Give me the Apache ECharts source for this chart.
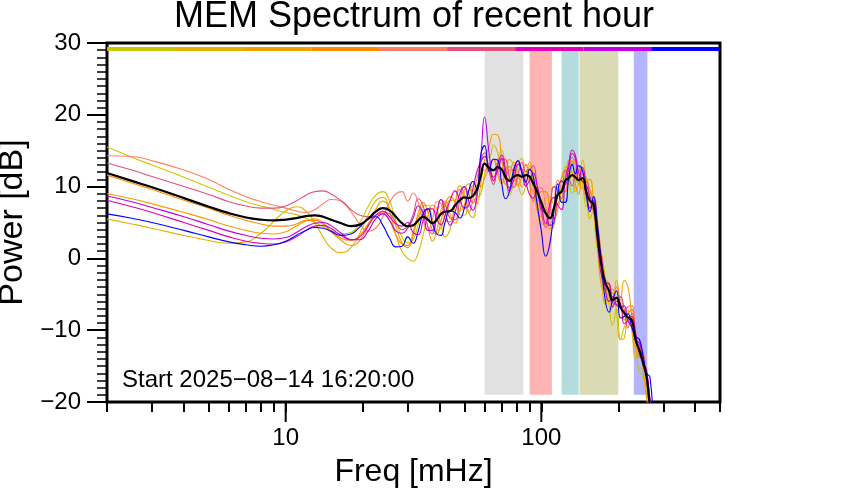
<!DOCTYPE html>
<html><head><meta charset="utf-8">
<script src="https://cdn.jsdelivr.net/npm/echarts@6/dist/echarts.min.js"></script>
<style>html,body{margin:0;padding:0;background:#fff}#c{width:842px;height:500px}</style>
</head><body><div id="c"></div>
<script>
// Frequencies (mHz)
const freqs = [2, 2.5, 3, 4, 5, 6, 7, 8, 9, 10, 11, 12, 13, 14, 15, 16.5, 18, 19.5, 21, 22.5, 24, 25.5, 27, 28.5,
  30, 31.5, 33, 34.5, 36, 37.5, 39, 40.5, 42, 44, 46, 48, 50, 52, 54, 56, 58, 60, 62.5, 65, 67.5, 70, 72.5, 75, 78, 81, 84, 87, 90, 93, 96,
  100, 104, 108, 112, 116, 120, 124, 128, 132, 136, 140, 145, 150, 155, 160, 166, 172, 178, 184, 190, 197, 204, 211, 218, 226, 234, 242, 250, 258, 266, 275];

const spec1 = [15.5, 14.1, 13.0, 11.3, 9.9, 8.8, 7.9, 7.3, 6.8, 6.4, 6.1, 5.6, 5.0, 4.4, 3.9, 3.4, 3.6, 5.0, 7.2, 8.8, 9.3, 8.0, 5.2, 3.0,
  2.2, 2.6, 4.8, 7.3, 7.4, 5.4, 3.9, 4.2, 6.0, 8.1, 7.9, 6.1, 6.0, 8.4, 10.2, 8.6, 9.0, 11.7, 13.1, 10.8, 13.7, 15.1, 11.8, 8.8, 10.4, 13.1, 13.9, 11.6, 12.9, 9.9, 7.4, 6.8, 8.3, 8.6, 7.5, 7.4, 10.8, 12.8, 10.7, 9.1, 10.3, 12.4, 10.2, 7.2, 9.5, 6.6, 1.0, 0.0, -2.9, -6.5, -9.3, -7.0, -11.3, -9.6, -8.7, -8.1, -12.4, -15.8, -16.5, -18.0, -20.5, -24];
const spec2 = [5.5, 4.8, 4.2, 3.2, 2.5, 2.1, 2.3, 3.5, 5.2, 6.6, 7.2, 6.6, 5.0, 3.0, 1.5, 0.8, 1.5, 3.5, 6.0, 8.0, 8.5, 6.5, 3.2, 1.0,
  0.0, -0.4, 0.8, 3.3, 5.9, 7.4, 6.9, 4.7, 3.0, 4.1, 7.4, 10.1, 9.0, 6.4, 5.7, 8.6, 13.0, 14.2, 14.1, 15.8, 14.7, 11.9, 12.3, 13.8, 12.9, 10.6, 8.9, 10.1, 11.9, 11.9, 8.4, 4.8, 4.8, 7.1, 10.0, 9.9, 7.8, 11.3, 13.7, 12.1, 9.3, 10.4, 13.7, 10.2, 5.5, 6.6, 3.5, -2.5, -6.4, -5.0, -4.3, -7.5, -11.3, -11.1, -7.2, -10.1, -13.9, -12.8, -15.5, -18.5, -21, -24];
const spec3 = [9.0, 8.3, 7.6, 6.4, 5.4, 4.5, 3.9, 3.5, 3.4, 3.7, 4.5, 5.2, 5.5, 5.0, 3.8, 2.5, 1.8, 2.5, 4.5, 6.8, 8.0, 7.0, 4.5, 2.2,
  1.5, 3.1, 5.8, 6.8, 4.4, 2.4, 3.9, 6.7, 8.0, 6.1, 4.9, 6.6, 9.5, 10.4, 8.7, 7.6, 10.5, 13.7, 15.6, 17.3, 17.2, 13.9, 10.3, 11.3, 13.4, 12.1, 9.9, 11.6, 13.4, 11.4, 6.9, 5.8, 6.8, 4.1, 4.5, 8.9, 11.3, 12.3, 10.2, 13.1, 13.8, 10.9, 9.7, 10.7, 11.0, 7.6, 1.5, -4.0, -4.4, -4.0, -6.8, -3.0, -5.8, -3.1, -3.9, -8.1, -12.4, -12.3, -15.5, -19.5, -22, -24];
const spec4 = [11.6, 10.5, 9.6, 8.1, 7.0, 6.0, 5.3, 4.8, 4.5, 4.5, 4.8, 5.3, 5.3, 4.8, 3.8, 2.8, 2.5, 3.2, 4.8, 6.0, 6.3, 5.2, 3.3, 2.0,
  1.8, 3.6, 6.3, 7.8, 6.4, 3.9, 3.4, 5.2, 7.5, 8.6, 7.9, 6.6, 7.5, 9.4, 10.7, 10.1, 10.0, 11.2, 12.6, 13.8, 11.7, 10.4, 11.8, 12.8, 11.9, 10.1, 11.4, 13.1, 10.4, 7.9, 8.9, 9.3, 9.3, 7.1, 5.5, 6.9, 9.3, 9.3, 12.2, 13.6, 10.3, 8.9, 11.7, 11.2, 9.5, 7.1, 2.0, 0.5, -3.4, -6.0, -4.8, -6.0, -5.3, -8.6, -7.7, -7.1, -11.4, -13.8, -13.5, -16.5, -20.0, -24];
const spec5 = [14.3, 14.2, 13.6, 12.3, 11.0, 9.6, 8.6, 7.9, 7.4, 7.0, 6.6, 6.4, 6.8, 7.6, 8.2, 8.0, 6.5, 4.8, 3.8, 4.2, 5.8, 7.8, 9.0, 9.3,
  8.0, 9.1, 7.8, 5.3, 3.9, 5.4, 7.9, 7.7, 5.5, 5.1, 7.9, 9.6, 8.5, 6.4, 8.2, 11.1, 12.5, 12.2, 13.1, 13.8, 12.2, 10.9, 11.3, 12.3, 12.4, 11.1, 11.9, 13.1, 10.9, 9.4, 9.9, 9.8, 7.3, 4.6, 7.5, 10.9, 9.8, 9.3, 12.2, 14.1, 12.8, 10.4, 12.2, 8.2, 8.5, 8.6, 5.0, 0.5, -2.9, -3.5, -6.3, -4.0, -6.3, -7.6, -6.7, -6.6, -10.4, -12.3, -13.0, -16.0, -19.5, -24];
const spec6 = [13.3, 12.3, 11.4, 10.0, 8.9, 7.9, 7.3, 7.0, 7.0, 7.3, 8.0, 8.8, 9.3, 9.4, 9.0, 8.0, 6.8, 6.0, 5.8, 6.0, 6.5, 6.2, 5.0, 4.0,
  4.5, 6.1, 8.3, 7.3, 4.4, 3.4, 5.9, 8.2, 7.5, 5.6, 5.4, 8.1, 10.0, 8.9, 7.7, 9.1, 13.5, 14.7, 12.1, 10.3, 12.7, 13.9, 13.8, 11.3, 9.9, 11.6, 13.4, 12.1, 12.4, 12.9, 10.4, 6.3, 4.3, 6.6, 10.0, 9.4, 8.3, 12.3, 11.2, 10.1, 11.8, 12.9, 10.7, 10.7, 8.0, 6.6, 4.5, -0.5, -4.4, -3.5, -5.8, -6.5, -5.3, -7.1, -9.7, -7.6, -10.9, -11.3, -15.0, -16.0, -19.5, -24];
const spec7 = [8.1, 7.2, 6.4, 5.0, 3.9, 3.0, 2.4, 2.1, 2.0, 2.3, 3.0, 3.9, 4.5, 4.6, 4.2, 3.2, 2.6, 3.0, 4.5, 6.0, 6.6, 5.8, 4.8, 4.5,
  5.0, 3.6, 3.3, 5.3, 6.9, 6.9, 5.4, 4.7, 6.0, 8.1, 9.4, 8.1, 7.0, 7.4, 9.7, 12.1, 13.5, 14.2, 12.6, 10.8, 13.2, 14.4, 12.3, 9.8, 10.9, 13.1, 12.4, 10.6, 8.9, 8.4, 9.9, 7.3, 4.8, 7.6, 8.5, 7.4, 6.8, 10.8, 13.2, 15.1, 14.3, 11.9, 10.7, 10.2, 8.5, 7.1, 2.0, -2.5, -3.4, -3.5, -6.8, -6.0, -6.3, -9.1, -8.7, -8.1, -10.4, -13.3, -14.5, -15.5, -20.0, -24];
const spec8 = [8.7, 7.9, 7.1, 5.8, 4.7, 3.8, 3.2, 2.8, 2.7, 2.9, 3.6, 4.4, 4.9, 5.0, 4.6, 3.5, 2.6, 2.6, 3.8, 5.5, 6.2, 5.3, 3.8, 3.5,
  4.2, 5.6, 7.3, 6.3, 3.9, 3.9, 6.4, 8.2, 6.5, 4.6, 6.4, 9.1, 10.0, 7.9, 6.7, 8.6, 14.0, 19.7, 14.6, 11.3, 12.2, 13.9, 11.3, 9.3, 11.9, 13.6, 11.9, 10.1, 10.9, 11.9, 10.4, 6.8, 6.3, 4.6, 5.0, 9.4, 10.8, 10.3, 12.7, 14.6, 13.8, 10.9, 12.7, 9.7, 7.0, 8.1, 3.0, 0.0, -4.4, -6.0, -5.3, -6.5, -6.8, -6.6, -8.7, -9.6, -11.4, -11.8, -14.0, -16.5, -21.5, -24];
const spec9 = [6.2, 5.6, 5.0, 3.9, 3.0, 2.3, 1.9, 1.7, 1.9, 2.4, 3.2, 3.9, 4.3, 4.2, 3.8, 3.2, 3.4, 4.4, 5.5, 5.8, 4.6, 2.8, 1.6, 1.7,
  3.0, 2.1, 3.8, 6.3, 6.9, 4.9, 3.4, 3.2, 5.0, 6.6, 6.4, 5.6, 7.0, 9.4, 10.7, 9.6, 14.5, 15.7, 12.1, 13.8, 13.7, 10.4, 8.3, 9.3, 12.4, 13.6, 11.9, 10.6, 12.4, 11.4, 7.9, 3.8, 0.3, 2.1, 6.5, 10.4, 7.8, 7.8, 11.2, 13.1, 11.8, 12.9, 12.2, 8.7, 6.5, 8.6, 4.5, -1.0, -5.9, -7.5, -5.8, -4.5, -8.3, -8.1, -7.7, -9.6, -10.9, -11.3, -13.5, -16.0, -16.5, -24];
const meanSpec = [11.9, 10.8, 9.9, 8.4, 7.2, 6.3, 5.7, 5.4, 5.3, 5.4, 5.6, 5.9, 6.0, 5.8, 5.4, 4.9, 4.5, 4.7, 5.5, 6.5, 7.0, 6.7, 5.8, 4.9,
  4.5, 4.6, 5.3, 5.8, 5.4, 4.9, 5.4, 6.2, 6.5, 6.6, 7.4, 8.1, 8.5, 8.4, 8.7, 9.6, 11.5, 13.2, 12.6, 12.3, 12.7, 12.4, 11.3, 10.8, 11.4, 11.6, 11.4, 11.6, 11.4, 10.4, 9.4, 7.8, 6.3, 5.6, 7.0, 8.9, 9.3, 10.8, 11.2, 11.6, 11.3, 10.9, 11.2, 9.2, 8.0, 7.6, 3.0, -1.0, -3.4, -4.5, -5.8, -5.5, -6.8, -7.6, -8.2, -8.6, -11.4, -12.8, -14.5, -16.5, -20.5, -24];

const specList = [spec1, spec2, spec3, spec4, spec5, spec6, spec7, spec8, spec9];
const specColors = ['#c8c800', '#e0b400', '#f0a000', '#ff8c00', '#ff7f66', '#e0507a', '#e000b4', '#c000e0', '#0000ff'];

// Frequency bands (mHz) and colours
const bands = [[60, 85], [90, 110], [120, 140], [141, 200], [230, 260]];
const bandColors = ['#e1e1e1', '#ffb4b4', '#b4dcdc', '#dadab4', '#b4b4ff'];
const bandY = [-19, 28.9];

// Time colour bar along the top (frequency edges of segments)
const barEdges = [2, 3.69, 6.81, 12.6, 23.2, 42.8, 79, 146, 269, 500];
const barY = [28.9, 29.45];

const xAllTicks = [2, 3, 4, 5, 6, 7, 8, 9, 10, 20, 30, 40, 50, 60, 70, 80, 90, 100, 200, 300, 400, 500];
const xMajorTicks = [10, 100];

const Y_MIN = -20, Y_MAX = 30;
const FONT = 'Liberation Sans, Arial, Helvetica, sans-serif';
const chart = echarts.init(document.getElementById('c'), null, { renderer: 'canvas' });

const series = specList.map((vals, i) => ({
  type: 'line', data: freqs.map((f, j) => [f, vals[j]]),
  showSymbol: false, smooth: 0.5, silent: true, z: 3,
  lineStyle: { color: specColors[i], width: 1.1 }
}));
series.push({
  type: 'line', data: freqs.map((f, j) => [f, meanSpec[j]]),
  showSymbol: false, smooth: 0.5, silent: true, z: 4,
  lineStyle: { color: '#000', width: 2.2 }
});
series.push({
  type: 'line', data: [], silent: true, z: 1,
  markArea: {
    silent: true,
    data: bands.map((b, i) => [
      { xAxis: b[0], yAxis: bandY[0], itemStyle: { color: bandColors[i] } },
      { xAxis: b[1], yAxis: bandY[1] }
    ])
  }
});
series.push({
  type: 'line', data: [], silent: true, z: 6,
  markArea: {
    silent: true,
    data: specColors.map((c, i) => [
      { xAxis: barEdges[i], yAxis: barY[0], itemStyle: { color: c } },
      { xAxis: barEdges[i + 1], yAxis: barY[1] }
    ])
  }
});

const tickStyle = { color: '#000', width: 2 };
chart.setOption({
  animation: false,
  backgroundColor: '#fff',
  grid: { left: 107, right: 122, top: 43, bottom: 98, outerBoundsMode: 'none', containLabel: false, show: true, borderColor: '#000', borderWidth: 3, backgroundColor: 'transparent' },
  xAxis: {
    type: 'log', min: 2, max: 500, position: 'bottom',
    name: 'Freq [mHz]', nameLocation: 'middle', nameGap: 54,
    nameTextStyle: { color: '#000', fontSize: 32, fontFamily: FONT },
    axisLine: { show: false, onZero: false },
    axisTick: { show: true, inside: false, length: 10, lineStyle: tickStyle, customValues: xAllTicks },
    axisLabel: { show: true, customValues: xMajorTicks, margin: 24, color: '#000', fontSize: 24, fontFamily: FONT },
    splitLine: { show: false }, minorTick: { show: false }
  },
  yAxis: {
    type: 'value', min: Y_MIN, max: Y_MAX, interval: 10,
    name: 'Power [dB]', nameLocation: 'middle', nameGap: 66,
    nameTextStyle: { color: '#000', fontSize: 34, fontFamily: FONT },
    axisLine: { show: false, onZero: false },
    axisTick: { show: true, inside: false, length: 20, lineStyle: tickStyle },
    minorTick: { show: true, splitNumber: 10, length: 10, lineStyle: { color: '#000', width: 1.5 } },
    axisLabel: { margin: 26, color: '#000', fontSize: 24, fontFamily: FONT, formatter: v => String(v).replace('-', '\u2212') },
    splitLine: { show: false }
  },
  graphic: [
    { id: 'title', type: 'text', x: 414, y: 17, style: { text: 'MEM Spectrum of recent hour', fill: '#000', font: '36px ' + FONT, textAlign: 'center', textVerticalAlign: 'middle' } },
    { id: 'start', type: 'text', x: 122, y: 380, style: { text: 'Start 2025\u221208\u221214 16:20:00', fill: '#000', font: '24px ' + FONT, textAlign: 'left', textVerticalAlign: 'middle' }, z: 10 }
  ],
  series: series
});

// long ticks at the decades, placed through the axis scale
const majorTickGraphics = xMajorTicks.map((v, i) => {
  const p = chart.convertToPixel({ gridIndex: 0 }, [v, Y_MIN]);
  return { id: 'majtick' + i, type: 'line', z: 20, silent: true,
    shape: { x1: p[0], y1: p[1], x2: p[0], y2: p[1] + 20 },
    style: { stroke: '#000', lineWidth: 2 } };
});
chart.setOption({ graphic: majorTickGraphics });
</script>
</body></html>
